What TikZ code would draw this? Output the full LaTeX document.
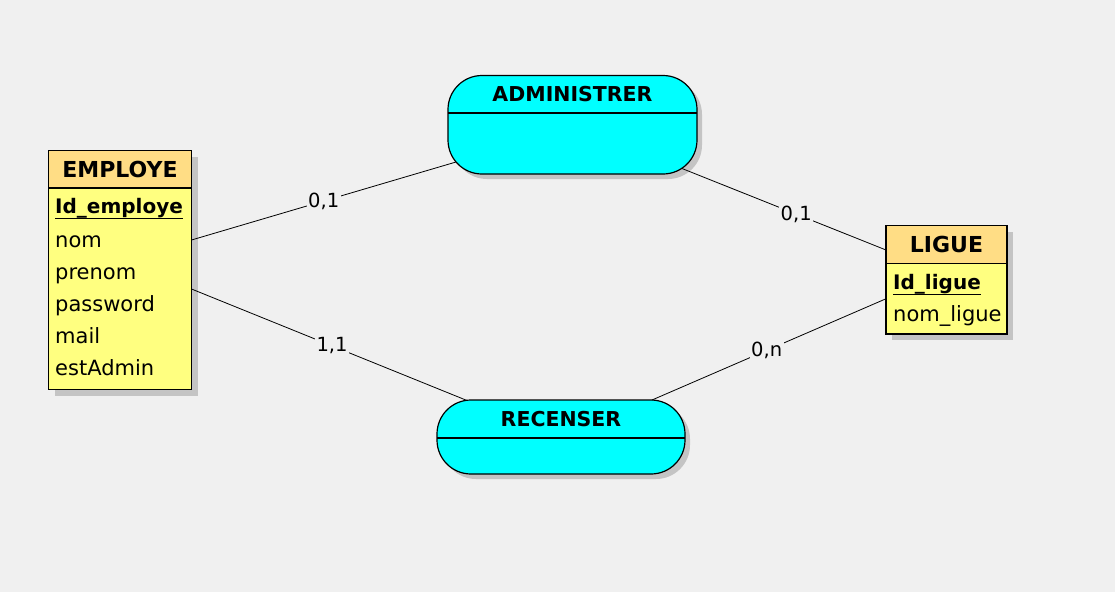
\documentclass[tikz,border=0pt]{standalone}
\usepackage{fontspec}
\setmainfont{DejaVu Sans}
\usetikzlibrary{positioning,calc,shadows}
\definecolor{bggray}{HTML}{F0F0F0}
\definecolor{shadowgray}{HTML}{C4C4C4}
\definecolor{entityorange}{HTML}{FFDD85}
\definecolor{entityyellow}{HTML}{FFFF80}
\definecolor{relationcyan}{HTML}{00FFFF}
\tikzset{
  enthead/.style={draw,line width=1.2pt,fill=entityorange,inner sep=0pt,outer sep=0pt,
    font=\fontsize{22}{26}\selectfont\bfseries,
    drop shadow={shadow xshift=6pt,shadow yshift=-6pt,fill=shadowgray,opacity=1}},
  entbody/.style={draw,line width=1.2pt,fill=entityyellow,inner sep=0pt,outer sep=0pt,
    drop shadow={shadow xshift=6pt,shadow yshift=-6pt,fill=shadowgray,opacity=1}},
  relbox/.style={draw,line width=1.2pt,fill=relationcyan,rounded corners=34pt,inner sep=0pt,outer sep=0pt,
    drop shadow={shadow xshift=5pt,shadow yshift=-5pt,fill=shadowgray,opacity=1}},
  reltitle/.style={font=\fontsize{20.5}{24}\selectfont\bfseries,inner sep=0pt},
  attr/.style={font=\fontsize{21}{25}\selectfont,inner sep=0pt,anchor=base west},
  keyattr/.style={font=\fontsize{20}{24}\selectfont\bfseries,inner sep=0pt,anchor=base west},
  card/.style={font=\fontsize{19.5}{23}\selectfont,fill=bggray,inner sep=1.5pt},
  link/.style={line width=0.8pt}
}

\begin{document}
\begin{tikzpicture}[x=1pt,y=-1pt]
  \fill[bggray] (0,0) rectangle (1115,592);
  \useasboundingbox (0,0) rectangle (1115,592);

  \node[enthead,minimum width=143pt,minimum height=37.5pt] (employe) at (120,169.25) {EMPLOYE};
  \node[entbody,minimum width=143pt,minimum height=201.5pt,below=0pt of employe] (employebody) {};
  \node[keyattr] (idemploye) at ($(employebody.north west)+(6.5,25)$) {Id\_employe};
  \draw[line width=1.2pt] ([yshift=-5.5pt]idemploye.base west) -- ([yshift=-5.5pt]idemploye.base east);
  \foreach \attr [count=\i] in {nom,prenom,password,mail,estAdmin}
    \node[attr] (employe-\attr) at ($(employebody.north west)+(6.5,27+32*\i)$) {\attr};

  \node[enthead,minimum width=121pt,minimum height=38pt] (ligue) at (946.5,244.5) {LIGUE};
  \node[entbody,minimum width=121pt,minimum height=70.5pt,below=0pt of ligue] (liguebody) {};
  \node[keyattr] (idligue) at ($(liguebody.north west)+(7,25.5)$) {Id\_ligue};
  \draw[line width=1.2pt] ([yshift=-5.5pt]idligue.base west) -- ([yshift=-5.5pt]idligue.base east);
  \node[attr] (nomligue) at ($(liguebody.north west)+(7,57.5)$) {nom\_ligue};

  \node[relbox,minimum width=249pt,minimum height=98.5pt] (administrer) at (572.5,124.75) {};
  \node[reltitle] (administrertitle) at ($(administrer.north)+(0,19)$) {ADMINISTRER};
  \draw[line width=1.2pt] ($(administrer.north west)+(0,37.5)$) -- ($(administrer.north east)+(0,37.5)$);

  \node[relbox,minimum width=248pt,minimum height=74pt] (recenser) at (561,437) {};
  \node[reltitle] (recensertitle) at ($(recenser.north)+(0,19)$) {RECENSER};
  \draw[line width=1.2pt] ($(recenser.north west)+(0,38)$) -- ($(recenser.north east)+(0,38)$);

  \draw[link] ($(employebody.north east)+(0,52)$) -- node[card] {0,1} ($(administrer.south west)+(8,-12)$);
  \draw[link] ($(administrer.south east)+(-15,-5.5)$) -- node[card,pos=0.56] {0,1} ($(ligue.south west)+(0,-13.5)$);
  \draw[link] ($(employebody.north east)+(0,101)$) -- node[card,pos=0.51] {1,1} ($(recenser.north west)+(30,0.5)$);
  \draw[link] ($(recenser.north east)+(-33,0)$) -- node[card,pos=0.49] {0,n} (liguebody.west);
\end{tikzpicture}
\end{document}
